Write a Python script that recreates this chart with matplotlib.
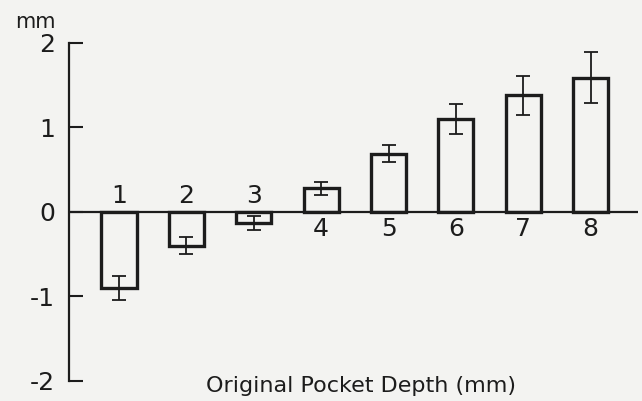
import matplotlib
matplotlib.use("Agg")
import matplotlib.pyplot as plt

# change in pocket depth, grouped by original depth
depth = [1, 2, 3, 4, 5, 6, 7, 8]
change = [-0.90, -0.40, -0.13, 0.28, 0.69, 1.10, 1.38, 1.59]
err = [0.14, 0.10, 0.08, 0.08, 0.10, 0.18, 0.23, 0.30]
yticks = [-2, -1, 0, 1, 2]

ink = "#1c1c1c"
paper = "#f3f3f1"

plt.rcParams["font.family"] = ["DejaVu Sans"]

fig = plt.figure(figsize=(6.42, 4.01), dpi=100, facecolor=paper)
ax = fig.add_axes([0.1075, 0.0499, 0.886, 0.843])
ax.set_facecolor(paper)

ax.bar(depth, change, width=0.52, facecolor="none", edgecolor=ink, linewidth=2.4)
ax.errorbar(depth, change, yerr=err, fmt="none", ecolor=ink,
            elinewidth=1.3, capsize=5, capthick=1.3)

ax.axhline(0, color=ink, linewidth=1.6)

# depth numbers sit on the side of the zero line away from the bar
for d, c in zip(depth, change):
    y = 0.19 if c < 0 else -0.2
    ax.text(d, y, str(d), ha="center", va="center", fontsize=18, color=ink)

ax.set_xlim(0.258, 8.70)
ax.set_ylim(-2, 2)
ax.set_yticks(yticks)
ax.set_yticklabels([str(t) for t in yticks])
ax.set_xticks([])

for side in ["top", "right", "bottom"]:
    ax.spines[side].set_visible(False)
ax.spines["left"].set_linewidth(1.6)
ax.spines["left"].set_color(ink)
ax.tick_params(axis="y", direction="in", length=10, width=1.5, color=ink,
               labelsize=18, labelcolor=ink, pad=10)

fig.text(0.023, 0.945, "mm", fontsize=15, color=ink, ha="left", va="center")
fig.text(0.562, 0.037, "Original Pocket Depth (mm)", fontsize=16, color=ink,
         ha="center", va="center")

fig.savefig("out.png", dpi=100, facecolor=paper)
